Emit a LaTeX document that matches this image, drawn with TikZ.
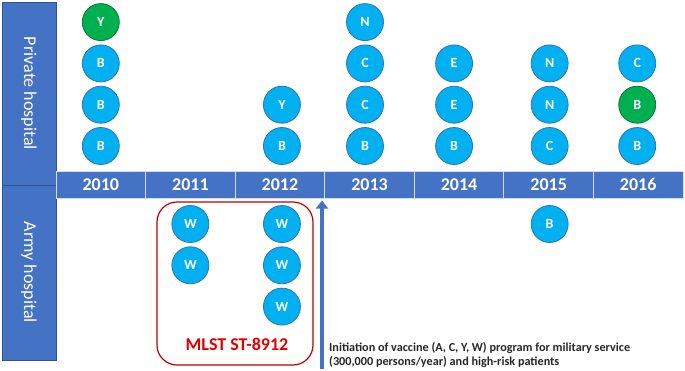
\documentclass[tikz,border=0pt]{standalone}
\usepackage{fontspec}
\setmainfont{Carlito}
\usetikzlibrary{arrows.meta, positioning}

\definecolor{barblue}{HTML}{4472C4}
\definecolor{baredge}{HTML}{2F528F}
\definecolor{caseblue}{HTML}{00B0F0}
\definecolor{caseedge}{HTML}{2E75B6}
\definecolor{casegreen}{HTML}{00B050}
\definecolor{mlstred}{HTML}{C00000}
\definecolor{notegray}{HTML}{262626}

\begin{document}
\begin{tikzpicture}[
    x=1pt, y=-1pt,
    node distance=4.3pt,
    sidecell/.style={
      draw=baredge, fill=barblue, text=white, rotate=-90,
      minimum height=54pt, inner sep=0pt, outer sep=0pt,
      font=\fontsize{18}{18}\selectfont
    },
    yearcell/.style={
      draw=white!75!barblue, line width=1pt, fill=barblue, text=white,
      minimum width=89.57pt, minimum height=27pt, inner sep=0pt, outer sep=0pt,
      font=\bfseries\fontsize{18}{18}\selectfont
    },
    case/.style={
      circle, draw=caseedge, line width=0.8pt, fill=caseblue, text=white,
      minimum size=37pt, inner sep=0pt, outer sep=0pt,
      font=\bfseries\fontsize{14}{14}\selectfont
    },
    greencase/.style={case, fill=casegreen, draw=casegreen!70!black},
    mlstbox/.style={draw=mlstred, line width=1.2pt, rounded corners=20pt,
      minimum width=156pt, minimum height=163pt},
    note/.style={align=left, text=notegray, inner sep=0pt,
      font=\bfseries\fontsize{12.2}{14}\selectfont}
]
    \useasboundingbox (0,0) rectangle (685,370);

    % Hospital cells
    \node[sidecell, minimum width=183pt] (private) at (29,93.5) {Private hospital};
    \node[sidecell, minimum width=175pt] (army) at (29,272.5) {Army hospital};

    % Year bar
    \node[yearcell] (y2010) at (100.8,184.5) {2010};
    \node[yearcell, right=0pt of y2010] (y2011) {2011};
    \node[yearcell, right=0pt of y2011] (y2012) {2012};
    \node[yearcell, right=0pt of y2012] (y2013) {2013};
    \node[yearcell, right=0pt of y2013] (y2014) {2014};
    \node[yearcell, right=0pt of y2014] (y2015) {2015};
    \node[yearcell, right=0pt of y2015] (y2016) {2016};

    % Private hospital cases
    \node[case, above=6.5pt of y2010] (p10a) {B};
    \node[case, above=of p10a] (p10b) {B};
    \node[case, above=of p10b] (p10c) {B};
    \node[greencase, above=of p10c] (p10d) {Y};

    \node[case, above=6.5pt of y2012, xshift=2pt] (p12a) {B};
    \node[case, above=of p12a] (p12b) {Y};

    \node[case, above=6.5pt of y2013, xshift=-4.5pt] (p13a) {B};
    \node[case, above=of p13a] (p13b) {C};
    \node[case, above=of p13b] (p13c) {C};
    \node[case, above=of p13c] (p13d) {N};

    \node[case, above=6.5pt of y2014, xshift=-5pt] (p14a) {B};
    \node[case, above=of p14a] (p14b) {E};
    \node[case, above=of p14b] (p14c) {E};

    \node[case, above=6.5pt of y2015, xshift=1pt] (p15a) {C};
    \node[case, above=of p15a] (p15b) {N};
    \node[case, above=of p15b] (p15c) {N};

    \node[case, above=6.5pt of y2016, xshift=-1pt] (p16a) {B};
    \node[greencase, above=of p16a] (p16b) {B};
    \node[case, above=of p16b] (p16c) {C};

    % Army hospital cases
    \node[case, below=7.5pt of y2011] (a11a) {W};
    \node[case, below=of a11a] (a11b) {W};

    \node[case, below=7.5pt of y2012, xshift=2pt] (a12a) {W};
    \node[case, below=of a12a] (a12b) {W};
    \node[case, below=of a12b] (a12c) {W};

    \node[case, below=7.5pt of y2015, xshift=1pt] (a15a) {B};

    % MLST cluster
    \node[mlstbox] (mlst) at (235,283.5) {};
    \node[text=red!90!black, font=\bfseries\fontsize{18}{18}\selectfont] (mlstlabel) at (237,344) {MLST ST-8912};

    % Vaccine programme
    \coordinate (vaccfoot) at (322,369);
    \coordinate (vacctip) at (322,200.5);
    \draw[-{Triangle[width=12pt,length=8pt]}, line width=4pt, barblue] (vaccfoot) -- (vacctip);
    \node[note, anchor=north west] (vaccnote) at (329,342.5)
      {Initiation of vaccine (A, C, Y, W) program for military service\\(300,000 persons/year) and high-risk patients};
\end{tikzpicture}
\end{document}
